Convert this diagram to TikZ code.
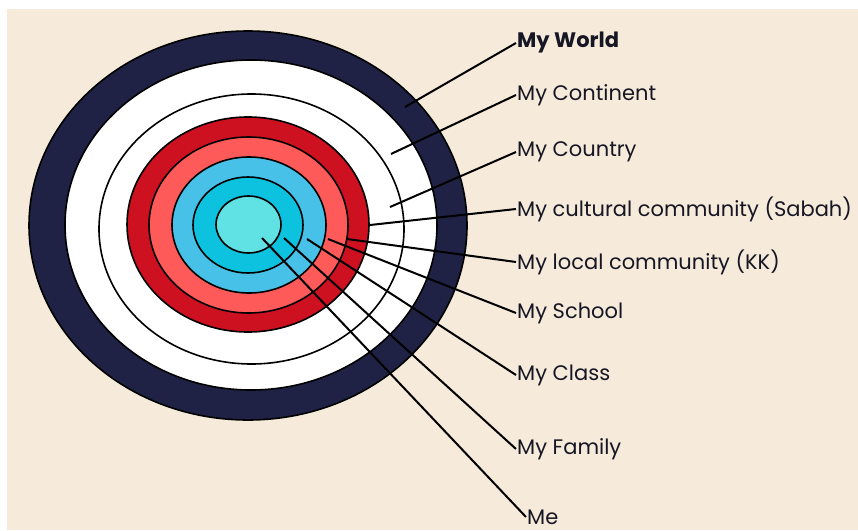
\documentclass[tikz,border=0pt]{standalone}
\usepackage{fontspec}
\setmainfont{Poppins}
\definecolor{paper}{HTML}{F6EBDA}
\definecolor{navyring}{HTML}{1F2244}
\definecolor{darkred}{HTML}{CE1121}
\definecolor{salmon}{HTML}{FF5A5A}
\definecolor{skyblue}{HTML}{48C1E9}
\definecolor{cyanring}{HTML}{0DC2DE}
\definecolor{palecyan}{HTML}{60E1E4}
\definecolor{inktext}{HTML}{161624}
\tikzset{
  ring/.style={draw=black,line width=1.6pt},
  lead/.style={draw=black,line width=2pt},
  tag/.style={anchor=west,inner sep=1pt,text=inktext,font=\fontsize{21}{24}\selectfont}
}
\begin{document}
\begin{tikzpicture}[x=1pt,y=-1pt]
\useasboundingbox (0,0) rectangle (858,530);
\fill[white] (0,0) rectangle (858,530);
\fill[paper] (7,9) rectangle (858,530);
% target rings, outside in
\path[ring,fill=navyring] (248,225.5) ellipse (219 and 194.5);
\path[ring,fill=white] (251,225) ellipse (186 and 165);
\path[ring,fill=white] (251.5,229) ellipse (152.5 and 135);
\path[ring,fill=darkred] (248,224.5) ellipse (121 and 107.5);
\path[ring,fill=salmon] (248.5,225) ellipse (99.5 and 88);
\path[ring,fill=skyblue] (249,225) ellipse (77 and 68);
\path[ring,fill=cyanring] (248,225) ellipse (55 and 48);
\path[ring,fill=palecyan] (248.5,224.5) ellipse (32.5 and 28.5);
% labels and leader lines
\foreach \i/\ty/\px/\py/\txt in {
  world/43/405/107/{\bfseries My World},
  continent/95/391/154/{My Continent},
  country/152/390/207/{My Country},
  culture/209/370/225/{My cultural community (Sabah)},
  local/262/347/239/{My local community (KK)},
  school/313/328/239/{My School},
  class/375/307/239/{My Class},
  family/449/284/238/{My Family}}{
  \node[tag] (\i) at (516,\ty) {\txt};
  \coordinate (\i-end) at (\px,\py);
  \draw[lead] (\i.west)--(\i-end);
}
\node[tag] (me) at (526,517) {Me};
\coordinate (me-end) at (262,238);
\draw[lead] (me.west)--(me-end);
\end{tikzpicture}
\end{document}
